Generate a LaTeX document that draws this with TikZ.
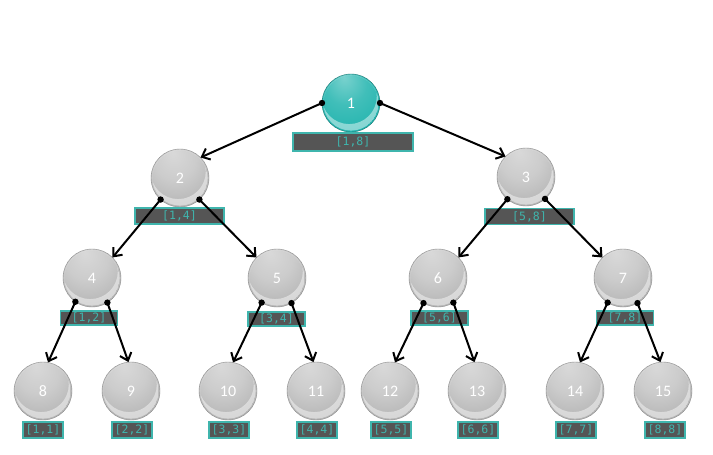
\documentclass[tikz,border=0pt]{standalone}
\usepackage{fontspec}
\setmainfont{Carlito}
\newfontfamily\monof{DejaVu Sans Mono}
\usetikzlibrary{arrows.meta}
\definecolor{lblfill}{HTML}{555555}
\definecolor{lblteal}{HTML}{3FB5AD}
\definecolor{rootteal}{HTML}{1FB3AD}
\pgfdeclareradialshading{greysphere}{\pgfpoint{-6bp}{22bp}}{%
  color(0bp)=(gray!30); color(18bp)=(gray!40); color(40bp)=(gray!62);
  color(60bp)=(gray!82); color(72bp)=(gray!92)}
\pgfdeclareradialshading{tealsphere}{\pgfpoint{-6bp}{22bp}}{%
  color(0bp)=(rootteal!60!white); color(18bp)=(rootteal!85!white); color(40bp)=(rootteal);
  color(60bp)=(rootteal!85!black); color(72bp)=(rootteal!72!black)}
\tikzset{
  ballnode/.style={circle, minimum size=58pt, inner sep=0pt, outer sep=0pt,
    shading=greysphere, draw=gray!90, line width=0.4pt, text=white, font=\fontsize{16}{16}\selectfont},
  rootball/.style={ballnode, shading=tealsphere, draw=rootteal!65!black},
  lbl/.style 2 args={draw=lblteal, line width=1.6pt, fill=lblfill, text=lblteal,
    font=\monof\fontsize{11.5}{11.5}\selectfont, inner sep=0pt, outer sep=0pt,
    minimum width=#1, minimum height=#2},
  edgeline/.style={line width=2pt, -{Straight Barb[length=7pt,width=12pt,line width=2pt]}},
  startdot/.style={fill=black},
  shine/.style={white, opacity=0.45, even odd rule}
}
\newcommand{\mkball}[5][ballnode]{%
  \node[#1] (#2) at (#3,#4) {#5};
  \begin{scope}[shift={(#3,#4)}]
    \clip (0,0) circle (27.6);
    \fill[shine] (0,0) circle (27.6) (-1.8,-6.5) circle (27.6);
  \end{scope}}
\newcommand{\mkedge}[4]{%
  \draw[edgeline] (#1.#2) -- (#3.#4);
  \fill[startdot] (#1.#2) circle (3.2);}
\begin{document}
\begin{tikzpicture}[x=1pt,y=-1pt]
\useasboundingbox[fill=white] (0,0) rectangle (713,455);
% balls
\mkball[rootball]{n1}{351}{103}{1}
\mkball{n2}{180}{178}{2}
\mkball{n3}{526}{177}{3}
\mkball{n4}{92}{278}{4}
\mkball{n5}{277}{278}{5}
\mkball{n6}{438}{278}{6}
\mkball{n7}{623}{278}{7}
\mkball{n8}{43}{391}{8}
\mkball{n9}{131}{391}{9}
\mkball{n10}{228}{391}{10}
\mkball{n11}{316}{391}{11}
\mkball{n12}{390}{391}{12}
\mkball{n13}{477}{391}{13}
\mkball{n14}{575}{391}{14}
\mkball{n15}{663}{391}{15}
% labels
\node[lbl={120pt}{18pt}] (l1) at (353,142) {[1,8]};
\node[lbl={89pt}{16pt}] (l2) at (179.5,216) {[1,4]};
\node[lbl={89pt}{16pt}] (l3) at (529.5,216.5) {[5,8]};
\node[lbl={57pt}{14pt}] (l4) at (89,318) {[1,2]};
\node[lbl={57pt}{14pt}] (l5) at (276.5,319) {[3,4]};
\node[lbl={57pt}{14pt}] (l6) at (439.5,318) {[5,6]};
\node[lbl={57pt}{14pt}] (l7) at (625,318) {[7,8]};
\node[lbl={40pt}{16pt}] (l8) at (43,430) {[1,1]};
\node[lbl={40pt}{16pt}] (l9) at (132,430) {[2,2]};
\node[lbl={40pt}{16pt}] (l10) at (229,430) {[3,3]};
\node[lbl={40pt}{16pt}] (l11) at (317,430) {[4,4]};
\node[lbl={40pt}{16pt}] (l12) at (391,430) {[5,5]};
\node[lbl={40pt}{16pt}] (l13) at (478,430) {[6,6]};
\node[lbl={40pt}{16pt}] (l14) at (576,430) {[7,7]};
\node[lbl={40pt}{16pt}] (l15) at (665,430) {[8,8]};
% edges
\mkedge{n1}{180}{n2}{45}
\mkedge{n1}{0}{n3}{135}
\mkedge{n2}{228}{n4}{45}
\mkedge{n2}{312}{n5}{135}
\mkedge{n3}{230}{n6}{45}
\mkedge{n3}{311}{n7}{135}
\mkedge{n4}{235}{n8}{80}
\mkedge{n4}{302}{n9}{95}
\mkedge{n5}{238}{n10}{80}
\mkedge{n5}{300}{n11}{95}
\mkedge{n6}{240}{n12}{80}
\mkedge{n6}{302}{n13}{95}
\mkedge{n7}{238}{n14}{80}
\mkedge{n7}{300}{n15}{95}
\end{tikzpicture}
\end{document}
